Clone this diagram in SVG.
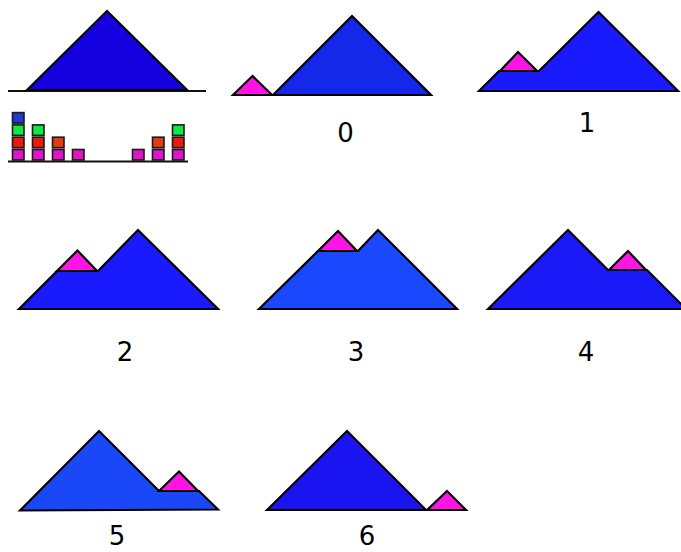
<svg xmlns="http://www.w3.org/2000/svg" width="681" height="552" viewBox="0 0 681 552">
<style>
.sh{stroke:#000;stroke-width:2.2;stroke-linejoin:miter}
.mg{fill:#ff14e6}
.ln{stroke:#111;stroke-width:2;fill:none}
.bx{stroke:#1a1a1a;stroke-width:1.6}
.lbl{font-family:"DejaVu Sans",Verdana,sans-serif;font-size:26px;fill:#000;text-anchor:middle}
</style>
<rect width="681" height="552" fill="#fff"/>
<g id="legend">
<line class="ln" x1="8" y1="91" x2="206" y2="91"/>
<polygon class="sh" fill="#1500e0" stroke-width="2.8" points="27,90 107,11 187,90"/>
<line class="ln" x1="8" y1="161.5" x2="188" y2="161.5"/>
<g id="bars">
<rect class="bx" x="12.5" y="149.5" width="11.5" height="10.5" fill="#e014cc"/>
<rect class="bx" x="12.5" y="137.2" width="11.5" height="10.5" fill="#ec1a0c"/>
<rect class="bx" x="12.5" y="124.9" width="11.5" height="10.5" fill="#12e844"/>
<rect class="bx" x="12.5" y="112.6" width="11.5" height="10.5" fill="#2238d0"/>
<rect class="bx" x="32.5" y="149.5" width="11.5" height="10.5" fill="#e014cc"/>
<rect class="bx" x="32.5" y="137.2" width="11.5" height="10.5" fill="#ec1a0c"/>
<rect class="bx" x="32.5" y="124.9" width="11.5" height="10.5" fill="#12e844"/>
<rect class="bx" x="52.5" y="149.5" width="11.5" height="10.5" fill="#e014cc"/>
<rect class="bx" x="52.5" y="137.2" width="11.5" height="10.5" fill="#e43a12"/>
<rect class="bx" x="72.5" y="149.5" width="11.5" height="10.5" fill="#e014c0"/>
<rect class="bx" x="132.5" y="149.5" width="11.5" height="10.5" fill="#e014c0"/>
<rect class="bx" x="152.5" y="149.5" width="11.5" height="10.5" fill="#e014cc"/>
<rect class="bx" x="152.5" y="137.2" width="11.5" height="10.5" fill="#e43a12"/>
<rect class="bx" x="172.5" y="149.5" width="11.5" height="10.5" fill="#e014cc"/>
<rect class="bx" x="172.5" y="137.2" width="11.5" height="10.5" fill="#ec1a0c"/>
<rect class="bx" x="172.5" y="124.9" width="11.5" height="10.5" fill="#12e844"/>
</g>
</g>
<g id="panel0">
<polygon class="sh mg" points="233,95 252.5,76 272,95"/>
<polygon class="sh" fill="#1428ea" points="273,95 352,16 431,95"/>
<text class="lbl" x="345.5" y="141.5">0</text>
</g>
<g id="panel1">
<polygon class="sh" fill="#1a1aff" points="479,91 499,71 539,71 598.5,12 678,91"/>
<polygon class="sh mg" points="500,71 518,52 537,71"/>
<text class="lbl" x="587" y="131.5">1</text>
</g>
<g id="panel2">
<polygon class="sh" fill="#1a1aff" points="19,309 57,271 98,271 138,230 218,309"/>
<polygon class="sh mg" points="57,271 77.5,250.5 97,271"/>
<text class="lbl" x="125" y="361">2</text>
</g>
<g id="panel3">
<polygon class="sh" fill="#1a48ff" points="259,309 318,251 358,251 378,230 457,309"/>
<polygon class="sh mg" points="318,251 338,231 357,251"/>
<text class="lbl" x="356" y="361">3</text>
</g>
<g id="panel4">
<polygon class="sh" fill="#1a1af8" points="488,309 568,230 608,270 647,270 686,309"/>
<polygon class="sh mg" points="609,270 628,251 646,270"/>
<text class="lbl" x="586" y="361">4</text>
</g>
<g id="panel5">
<polygon class="sh" fill="#1a48f8" points="20,510.5 99,431 159,491 199,491 218,509.5"/>
<polygon class="sh mg" points="159,491 179,471.5 198,491"/>
<text class="lbl" x="117" y="545">5</text>
</g>
<g id="panel6">
<polygon class="sh" fill="#1a14f0" points="267,510 347,431 426,510"/>
<polygon class="sh mg" points="427,510 447,491 466,510"/>
<text class="lbl" x="367" y="545">6</text>
</g>
</svg>
